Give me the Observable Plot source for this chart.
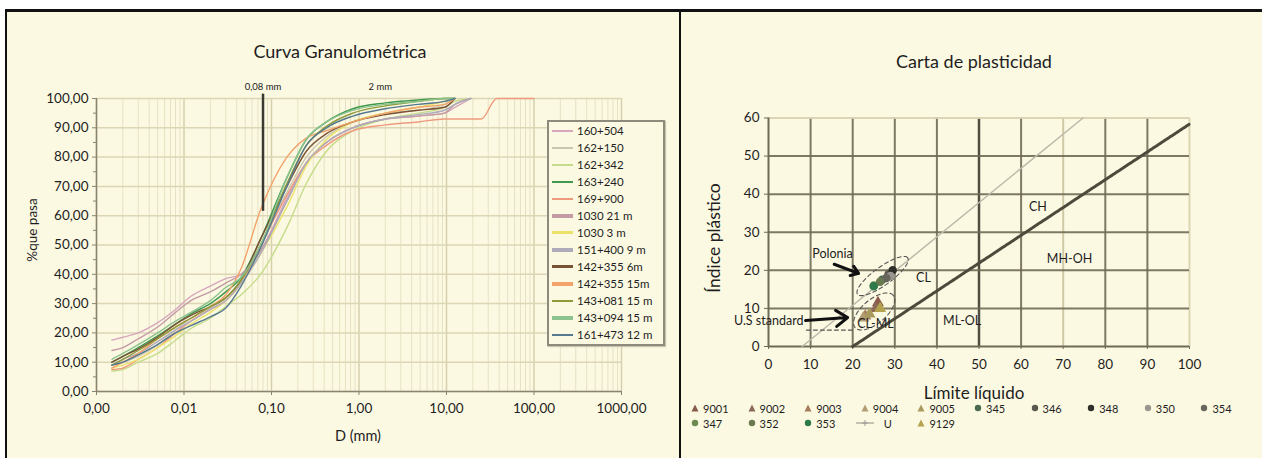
<!DOCTYPE html>
<html><head><meta charset="utf-8">
<script src="https://cdn.jsdelivr.net/npm/d3@7"></script>
<script src="https://cdn.jsdelivr.net/npm/@observablehq/plot@0.6"></script>
<style>
body{margin:0;background:#fff;font-family:Lato,"Open Sans",sans-serif;color:#1e1e1e;}
#page{position:relative;width:1262px;height:458px;overflow:hidden;background:#fff;}
#frame{position:absolute;left:5px;top:9px;width:1257px;height:449px;background:#fcf9e2;border-top:3px solid #111;border-left:2px solid #111;box-sizing:border-box;}
#divider{position:absolute;left:679px;top:9px;width:2px;height:449px;background:#111;}
.abs{position:absolute;white-space:nowrap;}
.title{font-size:18px;transform:translateX(-50%);line-height:20px;}
.chart{position:absolute;}
#legL{position:absolute;left:547px;top:120px;width:118px;height:226px;border:2px solid #8f8b7c;box-shadow:1px 1px 1px #c9c4ad;background:#fcf9e2;box-sizing:border-box;}
.li{height:17px;display:flex;align-items:center;font-size:11.5px;}
.sw{width:21px;margin-left:3px;margin-right:4px;}
.lr{position:absolute;display:flex;align-items:center;font-size:11px;height:14px;}
</style></head>
<body><div id="page">
<div id="frame"></div>
<div id="divider"></div>
<div class="abs title" style="left:340px;top:41px;">Curva Granulométrica</div>
<div class="abs title" style="left:974px;top:51px;">Carta de plasticidad</div>
<div id="left" class="chart" style="left:7px;top:12px;"></div>
<div id="right" class="chart" style="left:681px;top:12px;"></div>
<div class="abs" style="left:32px;top:230px;font-size:13.5px;transform:translate(-50%,-50%) rotate(-90deg);">%que pasa</div>
<div class="abs" style="left:358px;top:435px;font-size:14.5px;transform:translate(-50%,-50%);">D (mm)</div>
<div class="abs" style="left:713px;top:238px;font-size:17.5px;transform:translate(-50%,-50%) rotate(-90deg);">Índice plástico</div>
<div class="abs" style="left:974px;top:392px;font-size:17px;transform:translate(-50%,-50%);">Límite líquido</div>
<div id="legL"></div>
<div id="legR"></div>
</div>
<script>
// ---------- Curva granulométrica data ----------
const D = [0.0015, 0.002, 0.003, 0.005, 0.008, 0.012, 0.02, 0.03, 0.045, 0.075, 0.15, 0.25, 0.425, 0.85, 2, 4.75, 9.5, 12.5, 19, 25, 37.5, 100];
const seriesNames = ["160+504","162+150","162+342","163+240","169+900","1030 21 m","1030 3 m","151+400 9 m","142+355 6m","142+355 15m","143+081 15 m","143+094 15 m","161+473 12 m"];
const seriesColors = ["#d7a6bd","#c9c7b0","#c5dc8a","#3f9a4f","#ef9a7e","#c49aa5","#ece26a","#aeacba","#7a5236","#f2a36a","#8d9a3a","#8cc38e","#55798f"];
const legendWidths = [2,2,2,2,2,4,3,4,3,4,2,4,2];
const v160_504 = [17.5,18.5,20,23.5,28,32.5,36,38.5,40,48,66,78,85,90,93,94,95,97,100];
const v162_150 = [9,10,12,16,21,25,28.5,32,38,50,68,80,87,92,95,96,98,100];
const v162_342 = [7,7.5,10,13,17.5,21.5,25,29,33,40,56,71,82,89,93,95,97,99,100];
const v163_240 = [10,12,15,19,23,26.5,30,34,39,52,73,86,92,96.5,98.5,99.5,100,100];
const v169_900 = [7.5,8,11,15,20,24,28,31,37,50,67,78,84,89,91,92,93,93,93,93,100,100];
const v1030_21 = [14,15,18,22,27,31,34,37,40,48,65,78,85,90,93,94,95,98,100];
const v1030_3 = [8,9,11,15,19,23,27,31,37,47,63,77,86,92,95,97,99,100];
const v151_400 = [9,11,13,17,21,24,28,31,37,47,65,78,85,90,93,94.5,96,98,100];
const v142_355_6 = [10,12,14.5,18.5,23,26,29,32,38,52,70,82,88,92,94.5,96,97,100];
const v142_355_15 = [8,10,13,18,22,25,29,33,42,62,80,86.5,89,92,95,97,98,100];
const v143_081 = [9,11,14,18,22,25,29,32,38,50,71,84,90.5,95,97.5,99,100,100];
const v143_094 = [11,13,16,20,24,27,31,35.5,39,50,73,86,92,96,98,99,100,100];
const v161_473 = [9,10,12.5,16,20,22.5,25.5,28.5,36,49,70,84,90,94,96.5,98,99,100];
const seriesValues = [v160_504,v162_150,v162_342,v163_240,v169_900,v1030_21,v1030_3,v151_400,v142_355_6,v142_355_15,v143_081,v143_094,v161_473];
const xTickVals = [0.001,0.01,0.1,1,10,100,1000];
const xTickLabels = ["0,00","0,01","0,10","1,00","10,00","100,00","1000,00"];
const yTickVals = [0,10,20,30,40,50,60,70,80,90,100];
const yTickLabels = ["0,00","10,00","20,00","30,00","40,00","50,00","60,00","70,00","80,00","90,00","100,00"];
const yMinorVals = [5,15,25,35,45,55,65,75,85,95];
const sieveMarks = [0.08];
const sieveLabels = ["0,08 mm","2 mm"];
const sieveLabelD = [0.08, 1.75];

// ---------- Carta de plasticidad data ----------
const sampleIds = ["9001","9002","9003","9004","9005","345","346","348","350","354","347","352","353","9129"];
const sampleLL = [26,25.5,23,22.5,24,27,28.5,29.5,29,28,25,26.5,25,26.5];
const samplePI = [11.5,10,8,7.5,8.5,17.5,19,20,18.5,18,16,17,15.8,10];
const sampleSymbols = ["triangle","triangle","triangle","triangle","triangle","circle","circle","circle","circle","circle","circle","circle","circle","triangle"];
const sampleColors = ["#8a5a4c","#8b6a58","#a57c5c","#b39c72","#a89a5e","#4a6a52","#59594f","#2f2f2a","#9a9890","#66665c","#6a8a50","#6a7a50","#2e7a4a","#b3a24e"];
const llTicks = [0,10,20,30,40,50,60,70,80,90,100];
const piTicks = [0,10,20,30,40,50,60];
const aLineLL = [20,100], aLinePI = [0,58.4];
const uLineLL = [8,74.7], uLinePI = [0,60];
const zoneLabels = ["CH","MH-OH","CL","ML-OL","CL-ML","Polonia"];
const zoneLL = [64,71.5,36.8,46,25.4,15.2];
const zonePI = [36.5,23,18,6.8,6,24.4];
const usLabel = "U.S standard", usLL = 8.3, usPI = 6.6;
const arrowLL1 = [15.6,8.8], arrowPI1 = [21.6,6.8], arrowLL2 = [21.4,18.8], arrowPI2 = [19.2,7.6];
const ellCx = [27.1,25.1], ellCy = [18.5,9.2], ellA = [31,25], ellB = [9,12], ellAng = [36,40];
const dashLL = [9,20], dashPI = [4.3,4.3];

// ---------- left chart ----------
const rows = seriesNames.flatMap((n,i)=>seriesValues[i].map((p,j)=>({name:n,d:D[j],p})));
const minorX = [];
for (const k of [0.001,0.01,0.1,1,10,100]) for (let m=2;m<=9;m++) minorX.push(k*m);
const xLab = new Map(xTickVals.map((v,i)=>[v,xTickLabels[i]]));
const yLab = new Map(yTickVals.map((v,i)=>[v,yTickLabels[i]]));
const left = Plot.plot({
  width:672, height:446, marginLeft:89, marginRight:58, marginTop:86, marginBottom:67,
  style:{background:"none", fontFamily:"Lato, sans-serif", color:"#1e1e1e"},
  x:{type:"log", domain:[0.001,1000], axis:null},
  y:{domain:[0,100], axis:null},
  color:{domain:seriesNames, range:seriesColors},
  marks:[
    Plot.ruleX(minorX,{stroke:"#e6e1c3",strokeWidth:1}),
    Plot.ruleX(xTickVals,{stroke:"#d6cfac",strokeWidth:1.5}),
    Plot.ruleY(yTickVals,{stroke:"#dcd6b5",strokeWidth:1.5}),
    Plot.ruleX([0.001],{stroke:"#8a8572",strokeWidth:1.5}),
    Plot.ruleY([0],{stroke:"#8a8572",strokeWidth:1.5}),
    Plot.axisY(yTickVals,{tickSize:4,tickPadding:4,fontSize:13.5,stroke:"#8a8572",tickFormat:d=>yLab.get(d),label:null}),
    Plot.axisY(yMinorVals,{tickSize:3,stroke:"#8a8572",tickFormat:()=>"",label:null}),
    Plot.axisX(xTickVals,{tickSize:4,tickPadding:8,fontSize:13.5,stroke:"#8a8572",tickFormat:d=>xLab.get(d),label:null}),
    Plot.line(rows,{x:"d",y:"p",z:"name",stroke:"name",strokeWidth:1.4,curve:"monotone-x"}),
    Plot.ruleX(sieveMarks,{y1:61.5,y2:101.5,stroke:"#3a3a33",strokeWidth:2.5}),
    Plot.text(sieveLabels,{x:(d,i)=>sieveLabelD[i],y:103.8,text:d=>d,fontSize:9.5,fill:"#222"})
  ]
});
document.getElementById("left").appendChild(left);

// left legend
const legL = document.getElementById("legL");
seriesNames.forEach((n,i)=>{
  const it = document.createElement("div"); it.className="li";
  it.innerHTML = `<div class="sw" style="height:${legendWidths[i]}px;background:${seriesColors[i]}"></div><span>${n}</span>`;
  legL.appendChild(it);
});

// ---------- right chart ----------
const pxX = 421/100, pxY = 228.5/60;
const ellRows = [];
ellCx.forEach((cx,e)=>{
  const th = ellAng[e]*Math.PI/180;
  for (let k=0;k<=72;k++){
    const t = k/72*2*Math.PI;
    const px = ellA[e]*Math.cos(t)*Math.cos(th) - ellB[e]*Math.sin(t)*Math.sin(th);
    const py = ellA[e]*Math.cos(t)*Math.sin(th) + ellB[e]*Math.sin(t)*Math.cos(th);
    ellRows.push({e, x:cx+px/pxX, y:ellCy[e]+py/pxY});
  }
});
const samples = sampleIds.map((id,i)=>({id,ll:sampleLL[i],pi:samplePI[i],sym:sampleSymbols[i],col:sampleColors[i]}));
const arrows = arrowLL1.map((v,i)=>({x1:v,y1:arrowPI1[i],x2:arrowLL2[i],y2:arrowPI2[i]}));
const gridX = llTicks.filter(d=>d>0), gridY = piTicks.filter(d=>d>0);
const right = Plot.plot({
  width:581, height:446, marginLeft:87, marginRight:73, marginTop:105.5, marginBottom:112,
  style:{background:"none", fontFamily:"Lato, sans-serif", color:"#1e1e1e"},
  x:{domain:[0,100], axis:null},
  y:{domain:[0,60], axis:null},
  color:{type:"identity"},
  marks:[
    Plot.ruleX(gridX,{stroke:d=>d===70?"#cbc3a0":d===100?"#d8d1b0":d===50?"#3e3b30":"#6f6a55",strokeWidth:d=>d===50?2.5:2,strokeOpacity:0.9}),
    Plot.ruleY(gridY,{stroke:d=>d===60?"#d8d1b0":"#6f6a55",strokeWidth:2,strokeOpacity:0.9}),
    Plot.ruleX([0],{stroke:"#6f6a55",strokeWidth:2}),
    Plot.ruleY([0],{stroke:"#6f6a55",strokeWidth:2}),
    Plot.axisY(piTicks,{tickSize:4,tickPadding:5,fontSize:13.5,stroke:"#6f6a55",label:null}),
    Plot.axisX(llTicks,{tickSize:3,tickPadding:10,fontSize:13.5,stroke:"#6f6a55",label:null}),
    Plot.line(uLineLL.map((v,i)=>({x:v,y:uLinePI[i]})),{x:"x",y:"y",stroke:"#bdb8aa",strokeWidth:1.5}),
    Plot.line(aLineLL.map((v,i)=>({x:v,y:aLinePI[i]})),{x:"x",y:"y",stroke:"#4d4a3c",strokeWidth:3,strokeDasharray:"3,1"}),
    Plot.line(ellRows,{x:"x",y:"y",z:"e",stroke:"#555",strokeWidth:1.1,strokeDasharray:"4,3",curve:"linear"}),
    Plot.line(dashLL.map((v,i)=>({x:v,y:dashPI[i]})),{x:"x",y:"y",stroke:"#555",strokeWidth:1.1,strokeDasharray:"4,3"}),
    Plot.dot(samples,{x:"ll",y:"pi",symbol:"sym",fill:"col",stroke:"col",r:3.5}),
    Plot.arrow(arrows,{x1:"x1",y1:"y1",x2:"x2",y2:"y2",stroke:"#111",strokeWidth:3,headLength:9,headAngle:70}),
    Plot.text(zoneLabels,{x:(d,i)=>zoneLL[i],y:(d,i)=>zonePI[i],text:d=>d,fontSize:12.5,fill:"#1e1e1e"}),
    Plot.text([usLabel],{x:usLL,y:usPI,text:d=>d,textAnchor:"end",fontSize:12.5,fill:"#1e1e1e"})
  ]
});
document.getElementById("right").appendChild(right);

// right legend
const legR = document.getElementById("legR");
const row1 = ["9001","9002","9003","9004","9005","345","346","348","350","354"];
const row2 = ["347","352","353","U","9129"];
function marker(id){
  if (id==="U") return `<svg width="18" height="8"><line x1="0" y1="4" x2="18" y2="4" stroke="#b5b0a2" stroke-width="1.5"/><path d="M9 1v6M6 4h6" stroke="#999" stroke-width="1"/></svg>`;
  const i = sampleIds.indexOf(id);
  const c = sampleColors[i];
  if (sampleSymbols[i]==="triangle") return `<svg width="8" height="8"><path d="M4 0.5L7.5 7.5H0.5Z" fill="${c}"/></svg>`;
  return `<svg width="8" height="8"><circle cx="4" cy="4" r="3.2" fill="${c}"/></svg>`;
}
function addRow(ids, y){
  ids.forEach((id,k)=>{
    const el = document.createElement("div"); el.className="lr";
    const mx = 695 + 56.6*k;
    el.style.left = (mx-(id==="U"?9:4))+"px"; el.style.top = (y-7)+"px";
    el.innerHTML = marker(id)+`<span style="margin-left:${id==="U"?10:4}px">${id}</span>`;
    legR.appendChild(el);
  });
}
addRow(row1, 408); addRow(row2, 423);
</script>
</body></html>
